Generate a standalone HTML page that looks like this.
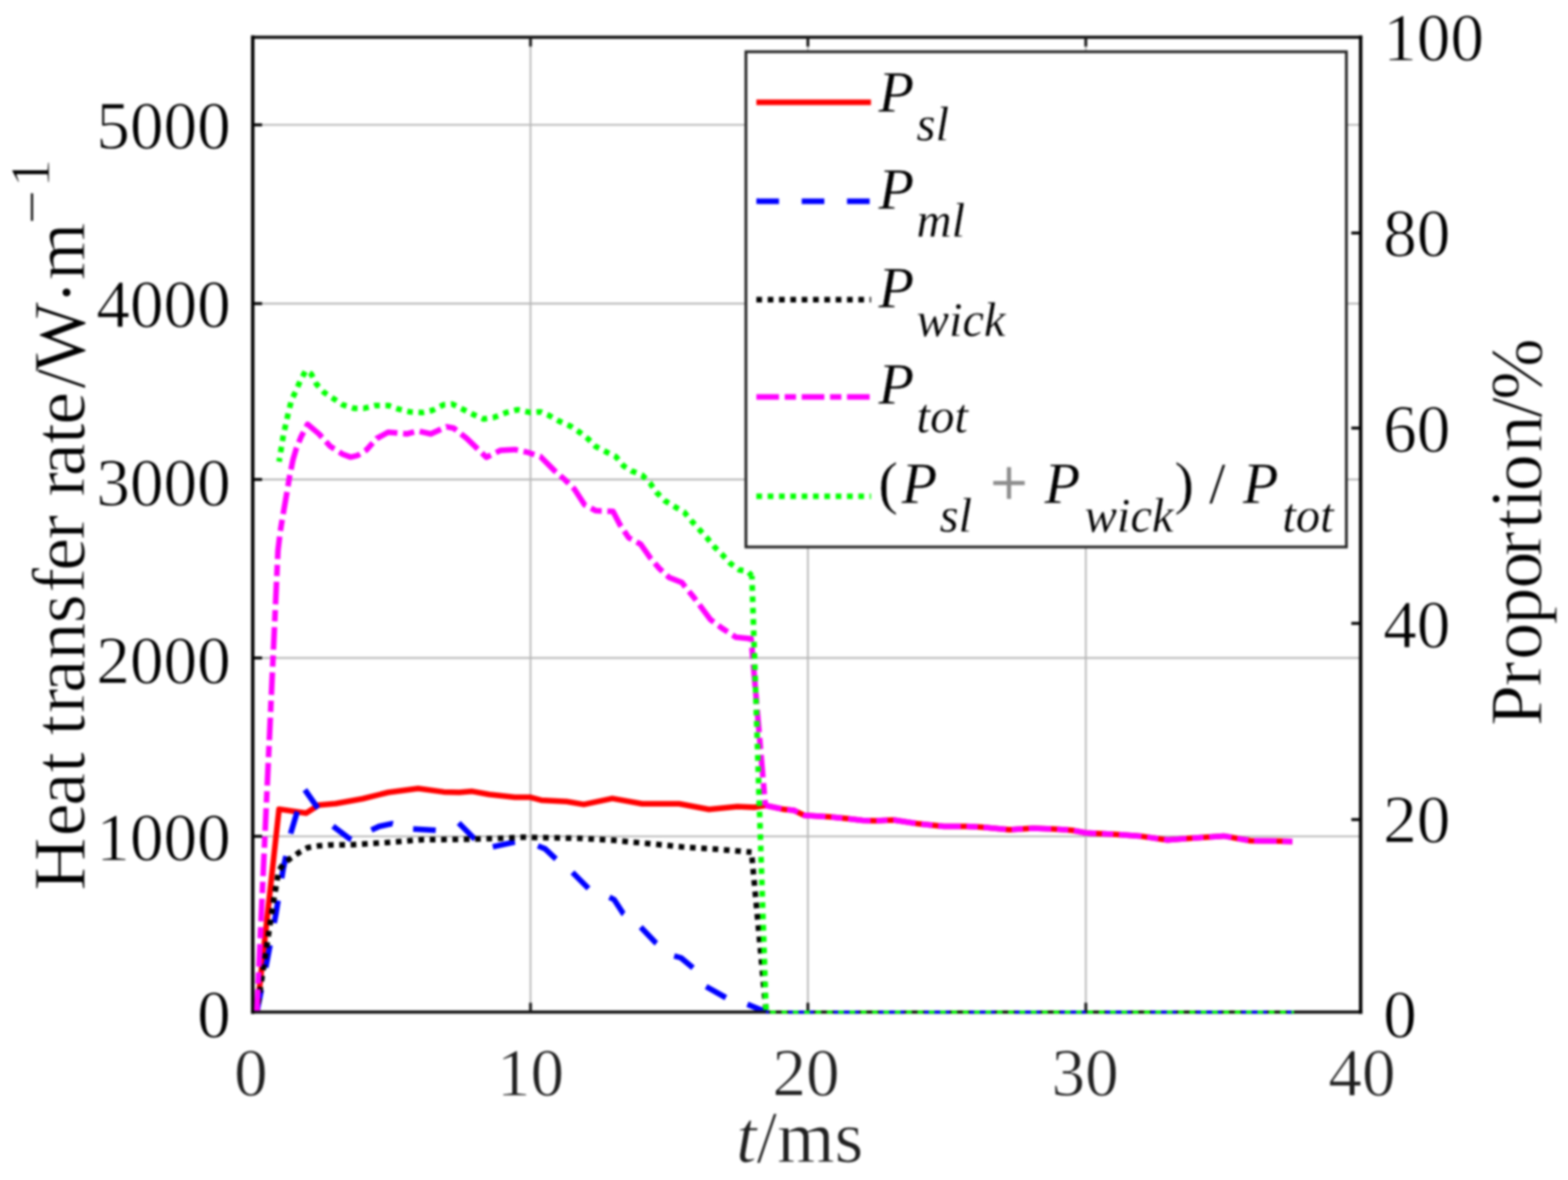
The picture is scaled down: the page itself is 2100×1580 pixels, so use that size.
<!DOCTYPE html>
<html lang="en">
<head>
<meta charset="utf-8">
<title>Heat transfer rate and proportion versus time</title>
<style>
html,body{margin:0;padding:0;background:#fff;}
body{width:2100px;height:1580px;overflow:hidden;}
svg{display:block;font-family:"Liberation Serif","DejaVu Serif",serif;filter:blur(1.5px);}
.tk{font-size:90px;fill:#1f1f1f;}
.lab{font-size:99px;fill:#1f1f1f;}
.yl{fill:#000;}
.ytk{fill:#000;}
.leg{font-size:78px;fill:#000;stroke-width:0.3px;}
.sub{font-size:65px;fill:#000;font-style:italic;stroke-width:0.3px;}
.it{font-style:italic;}
text{stroke:#ffffff;stroke-width:1.1px;stroke-linejoin:round;}
</style>
</head>
<body>
<svg width="2100" height="1580" viewBox="0 0 2100 1580" role="img" aria-label="Heat transfer rate and proportion versus time">
<rect x="0" y="0" width="2100" height="1580" fill="#ffffff"/>
<defs><clipPath id="ax"><rect x="338.5" y="49.8" width="1483.8" height="1303.45"/></clipPath></defs>

<g stroke="#b6b6b6" stroke-width="2.3" fill="none">
<line x1="710.5" y1="49.8" x2="710.5" y2="1355.2"/>
<line x1="1082.0" y1="49.8" x2="1082.0" y2="1355.2"/>
<line x1="1454.2" y1="49.8" x2="1454.2" y2="1355.2"/>
<line x1="338.5" y1="1119.8" x2="1822.3" y2="1119.8"/>
<line x1="338.5" y1="881.0" x2="1822.3" y2="881.0"/>
<line x1="338.5" y1="642.0" x2="1822.3" y2="642.0"/>
<line x1="338.5" y1="406.5" x2="1822.3" y2="406.5"/>
<line x1="338.5" y1="167.2" x2="1822.3" y2="167.2"/>
</g>
<g fill="none" stroke="#121212" stroke-width="4.2" stroke-linecap="square"><line x1="338.5" y1="49.8" x2="1822.3" y2="49.8"/><line x1="338.5" y1="1355.2" x2="1822.3" y2="1355.2"/></g>
<g fill="none" stroke="#000000" stroke-width="4.6" stroke-linecap="square"><line x1="338.5" y1="49.8" x2="338.5" y2="1355.2"/><line x1="1822.3" y1="49.8" x2="1822.3" y2="1355.2"/></g>
<g stroke="#1a1a1a" stroke-width="3.9" fill="none">
<line x1="710.5" y1="1355.2" x2="710.5" y2="1342.7"/>
<line x1="710.5" y1="49.8" x2="710.5" y2="62.3"/>
<line x1="1082.0" y1="1355.2" x2="1082.0" y2="1342.7"/>
<line x1="1082.0" y1="49.8" x2="1082.0" y2="62.3"/>
<line x1="1454.2" y1="1355.2" x2="1454.2" y2="1342.7"/>
<line x1="1454.2" y1="49.8" x2="1454.2" y2="62.3"/>
<line x1="338.5" y1="1119.8" x2="351.0" y2="1119.8" stroke="#000"/>
<line x1="338.5" y1="881.0" x2="351.0" y2="881.0" stroke="#000"/>
<line x1="338.5" y1="642.0" x2="351.0" y2="642.0" stroke="#000"/>
<line x1="338.5" y1="406.5" x2="351.0" y2="406.5" stroke="#000"/>
<line x1="338.5" y1="167.2" x2="351.0" y2="167.2" stroke="#000"/>
<line x1="1822.3" y1="1097.4" x2="1809.8" y2="1097.4" stroke="#000"/>
<line x1="1822.3" y1="834.7" x2="1809.8" y2="834.7" stroke="#000"/>
<line x1="1822.3" y1="573.2" x2="1809.8" y2="573.2" stroke="#000"/>
<line x1="1822.3" y1="312.0" x2="1809.8" y2="312.0" stroke="#000"/>
</g>
<g clip-path="url(#ax)">
<polyline points="344.0,1355.0 373.7,1083.4 409.9,1088.8 426.7,1078.0 449.5,1076.0 485.7,1069.5 520.0,1061.0 560.0,1055.8 594.3,1060.4 615.2,1061.0 632.4,1059.6 655.2,1063.8 689.5,1067.6 710.5,1067.6 724.8,1071.4 759.0,1073.3 781.9,1077.1 820.0,1069.1 860.0,1076.2 909.5,1076.2 949.5,1083.8 987.6,1080.0 1010.0,1081.0 1025.0,1078.5 1050.3,1083.8 1062.9,1084.9 1077.5,1091.8 1111.0,1093.7 1134.0,1096.0 1155.0,1098.5 1171.8,1099.1 1197.0,1098.0 1230.5,1103.1 1264.0,1106.4 1293.3,1106.4 1314.3,1107.5 1352.0,1111.0 1383.4,1109.0 1410.7,1110.0 1435.6,1111.7 1454.5,1115.2 1494.3,1117.3 1525.7,1119.4 1563.4,1124.7 1592.8,1122.6 1638.9,1119.4 1674.5,1125.7 1714.3,1126.3 1731.0,1126.8" fill="none" stroke="#ff0000" stroke-width="7.5" stroke-linejoin="round"/>
<polyline points="344.0,1355.0 358.0,1284.8 369.5,1223.8 379.0,1164.8 389.4,1115.7" fill="none" stroke="#0000ff" stroke-width="7.5" stroke-linejoin="round" stroke-dasharray="30.350 30.350" stroke-dashoffset="0"/>
<polyline points="389.4,1115.7 397.1,1090.0 408.3,1057.5" fill="none" stroke="#0000ff" stroke-width="7.5" stroke-linejoin="round" stroke-dasharray="30.350 999" stroke-dashoffset="0"/>
<polyline points="408.3,1057.5 424.6,1080.6 446.0,1106.3" fill="none" stroke="#0000ff" stroke-width="7.5" stroke-linejoin="round" stroke-dasharray="30.350 999" stroke-dashoffset="0"/>
<polyline points="446.0,1106.3 467.4,1122.6 472.0,1124.5 497.4,1111.4" fill="none" stroke="#0000ff" stroke-width="7.5" stroke-linejoin="round" stroke-dasharray="30.350 999" stroke-dashoffset="0"/>
<polyline points="497.4,1111.4 508.0,1106.5 524.9,1102.9 553.3,1110.0" fill="none" stroke="#0000ff" stroke-width="7.5" stroke-linejoin="round" stroke-dasharray="30.350 999" stroke-dashoffset="0"/>
<polyline points="553.3,1110.0 584.0,1111.8 614.3,1101.9" fill="none" stroke="#0000ff" stroke-width="7.5" stroke-linejoin="round" stroke-dasharray="30.350 999" stroke-dashoffset="0"/>
<polyline points="614.3,1101.9 635.2,1122.9 652.0,1134.5 660.0,1133.8" fill="none" stroke="#0000ff" stroke-width="7.5" stroke-linejoin="round" stroke-dasharray="30.350 999" stroke-dashoffset="0"/>
<polyline points="660.0,1133.8 688.6,1127.6 703.0,1125.5 720.4,1132.6" fill="none" stroke="#0000ff" stroke-width="7.5" stroke-linejoin="round" stroke-dasharray="30.350 999" stroke-dashoffset="0"/>
<polyline points="720.4,1132.6 730.0,1136.5 743.0,1148.7 766.7,1168.1" fill="none" stroke="#0000ff" stroke-width="7.5" stroke-linejoin="round" stroke-dasharray="30.350 999" stroke-dashoffset="0"/>
<polyline points="766.7,1168.1 789.3,1190.7 816.2,1201.4" fill="none" stroke="#0000ff" stroke-width="7.5" stroke-linejoin="round" stroke-dasharray="30.350 999" stroke-dashoffset="0"/>
<polyline points="816.2,1201.4 822.5,1204.5 834.5,1223.0 858.1,1241.3" fill="none" stroke="#0000ff" stroke-width="7.5" stroke-linejoin="round" stroke-dasharray="30.350 999" stroke-dashoffset="0"/>
<polyline points="858.1,1241.3 877.5,1261.7 902.9,1280.0" fill="none" stroke="#0000ff" stroke-width="7.5" stroke-linejoin="round" stroke-dasharray="30.350 999" stroke-dashoffset="0"/>
<polyline points="902.9,1280.0 912.0,1282.5 928.6,1296.2 945.7,1321.0" fill="none" stroke="#0000ff" stroke-width="7.5" stroke-linejoin="round" stroke-dasharray="30.350 999" stroke-dashoffset="0"/>
<polyline points="945.7,1321.0 974.3,1337.1 1001.0,1344.8" fill="none" stroke="#0000ff" stroke-width="7.5" stroke-linejoin="round" stroke-dasharray="30.350 999" stroke-dashoffset="0"/>
<polyline points="1001.0,1344.8 1026.7,1355.2" fill="none" stroke="#0000ff" stroke-width="7.5" stroke-linejoin="round" stroke-dasharray="30.350 999" stroke-dashoffset="0"/>
<polyline points="344.0,1355.0 358.0,1262.0 365.7,1210.5 373.3,1166.0 380.0,1156.0 388.6,1149.7 400.8,1141.3 412.2,1134.9 426.7,1132.6 441.9,1131.4 472.4,1131.0 518.0,1128.2 563.8,1124.4 624.8,1123.8 670.5,1122.5 700.0,1121.0 776.2,1122.5 821.9,1125.1 867.6,1129.5 913.3,1133.9 959.0,1137.1 1006.5,1141.0" fill="none" stroke="#000000" stroke-width="7.5" stroke-linejoin="round" stroke-dasharray="7.588 7.588" stroke-dashoffset="4.0118058748633025"/>
<polyline points="1006.5,1141.0 1026.0,1355.0" fill="none" stroke="#000000" stroke-width="7.5" stroke-linejoin="round" stroke-dasharray="7.588 7.588" stroke-dashoffset="7.95090200003164"/>
<polyline points="344.0,1355.0 372.3,737.0 375.3,712.0 378.6,691.9 383.9,661.5 387.7,638.7 392.3,615.9 396.8,600.7 402.9,585.6 412.0,568.1 427.2,581.0 442.4,597.7 459.1,608.3 469.7,612.1 478.8,609.9 491.0,602.3 504.6,587.1 519.8,578.7 544.8,581.0 560.0,577.1 577.0,581.0 598.0,571.4 607.6,573.3 624.8,586.7 651.4,612.4 670.5,602.9 689.5,601.9 706.7,605.7 723.8,611.4 742.9,630.5 756.2,642.0 769.5,655.2 783.0,676.0 798.0,683.8 821.0,684.8 830.5,702.9 842.0,720.0 858.0,728.6 871.4,747.6 882.9,761.0 896.2,773.3 913.3,780.0 919.0,787.6 928.6,799.0 940.0,814.3 951.4,829.5 966.7,841.0 985.7,853.3 1006.0,855.2 1025.0,1078.5" fill="none" stroke="#ff00ff" stroke-width="7.5" stroke-linejoin="round" stroke-dasharray="30.350 7.588 15.175 7.588" stroke-dashoffset="0"/>
<polyline points="1025.0,1078.5 1050.3,1083.8 1062.9,1084.9 1077.5,1091.8 1111.0,1093.7 1134.0,1096.0 1155.0,1098.5 1171.8,1099.1 1197.0,1098.0 1230.5,1103.1 1264.0,1106.4 1293.3,1106.4 1314.3,1107.5 1352.0,1111.0 1383.4,1109.0 1410.7,1110.0 1435.6,1111.7 1454.5,1115.2 1494.3,1117.3 1525.7,1119.4 1563.4,1124.7 1592.8,1122.6 1638.9,1119.4 1674.5,1125.7 1714.3,1126.3 1731.0,1126.8" fill="none" stroke="#ff00ff" stroke-width="7.5" stroke-linejoin="round" stroke-dasharray="30.350 7.588 15.175 7.588" stroke-dashoffset="8.294572063361535"/>
<polyline points="373.8,618.2 379.5,582.9 385.8,554.3 390.5,535.2 396.2,523.8 401.9,510.5 409.5,496.2 417.0,501.0 423.8,514.3 434.3,525.7 447.6,534.3 459.0,542.0 474.3,546.7 487.6,546.7 502.9,542.9 520.0,542.9 533.3,547.6 548.6,551.4 565.7,552.4 579.0,549.5 594.3,541.9 605.7,541.0 621.0,548.6 634.3,555.2 647.6,561.0 661.0,559.0 678.0,552.4 693.3,548.6 710.5,552.4 723.8,551.4 735.2,556.2 748.6,563.8 763.8,570.5 775.2,578.0 787.6,587.6 798.0,598.0 811.4,604.8 824.8,611.4 835.2,623.8 845.7,630.5 860.0,636.2 870.5,646.7 879.0,659.0 890.5,670.5 902.9,678.0 916.2,685.7 925.7,697.0 936.2,708.6 946.7,720.0 956.0,731.4 966.7,742.0 978.0,754.3 990.0,763.0 1001.0,764.8 1007.0,771.0" fill="none" stroke="#00ff00" stroke-width="7.5" stroke-linejoin="round" stroke-dasharray="7.588 7.588" stroke-dashoffset="2.4892941304248986"/>
<polyline points="1007.0,771.0 1026.0,1355.0" fill="none" stroke="#00ff00" stroke-width="7.5" stroke-linejoin="round" stroke-dasharray="7.588 7.588" stroke-dashoffset="2.72850640157872"/>
</g>
<line x1="1026.0" y1="1355.2" x2="1733.0" y2="1355.2" stroke="#0000ff" stroke-width="4.0" stroke-dasharray="34.000 26.700" stroke-dashoffset="30.800"/>
<line x1="1026.0" y1="1355.2" x2="1733.0" y2="1355.2" stroke="#00ff00" stroke-width="4.0" stroke-dasharray="7.588 7.588" stroke-dashoffset="9.696"/>
<g class="tk">
<text x="309" y="1389.3" text-anchor="end" class="ytk">0</text>
<text x="309" y="1151.5" text-anchor="end" class="ytk">1000</text>
<text x="309" y="915.3" text-anchor="end" class="ytk">2000</text>
<text x="309" y="676.5" text-anchor="end" class="ytk">3000</text>
<text x="309" y="437.6" text-anchor="end" class="ytk">4000</text>
<text x="309" y="198.9" text-anchor="end" class="ytk">5000</text>
<text x="336.0" y="1467" text-anchor="middle">0</text>
<text x="710.5" y="1467" text-anchor="middle">10</text>
<text x="1079.5" y="1467" text-anchor="middle">20</text>
<text x="1453.2" y="1467" text-anchor="middle">30</text>
<text x="1824.0" y="1467" text-anchor="middle">40</text>
<text x="1852.4" y="1389.3" text-anchor="start" class="ytk">0</text>
<text x="1852.4" y="1128.2" text-anchor="start" class="ytk">20</text>
<text x="1852.4" y="867.0" text-anchor="start" class="ytk">40</text>
<text x="1852.4" y="604.8" text-anchor="start" class="ytk">60</text>
<text x="1852.4" y="343.2" text-anchor="start" class="ytk">80</text>
<text x="1852.4" y="81.3" text-anchor="start" class="ytk">100</text>
</g>
<text class="lab" x="1071" y="1556" text-anchor="middle"><tspan class="it">t</tspan>/ms</text>
<text class="lab yl" transform="translate(113,1192.7) rotate(-90)" text-anchor="start" dx="0.0 2.7 -1.7 1.3 0.0 0.0 3.4 -4.2 1.5 0.4 3.6 -2.4 -1.2 1.1 1.2 -4.2 0.3 -0.8 5.8 -3.8 -2.5 1.1" dy="0 0 0 0 0 0 0 0 0 0 0 0 0 0 0 0 0 0 0 0 8.5 -8.5" style="letter-spacing:-1.2px">Heat transfer rate/W·m<tspan dx="-1.3" dy="-43.5" style="font-size:82px;letter-spacing:0">−</tspan><tspan dx="3.4" dy="-3.1" style="font-size:77px;letter-spacing:0">1</tspan></text>
<text class="lab yl" transform="translate(2063.6,973.7) rotate(-90)" text-anchor="start" dx="1.4 -0.4 3.7 -0.9 0.0 -4.8 4.8 0.9 -2.8 3.8 -1.9 -2.4" style="letter-spacing:-1.3px">Proportion/%</text>
<rect x="999.0" y="69.3" width="804.2" height="663.1" fill="#ffffff" stroke="#262626" stroke-width="3.75"/>
<line x1="1013.0" y1="137.1" x2="1166.5" y2="137.1" stroke="#ff0000" stroke-width="7.5"/>
<line x1="1013.0" y1="269.4" x2="1166.5" y2="269.4" stroke="#0000ff" stroke-width="7.5" stroke-dasharray="30.350 30.350"/>
<line x1="1013.0" y1="401.2" x2="1166.5" y2="401.2" stroke="#000000" stroke-width="7.5" stroke-dasharray="7.588 7.588"/>
<line x1="1013.0" y1="531.5" x2="1166.5" y2="531.5" stroke="#ff00ff" stroke-width="7.5" stroke-dasharray="30.350 7.588 15.175 7.588"/>
<line x1="1013.0" y1="664.4" x2="1166.5" y2="664.4" stroke="#00ff00" stroke-width="7.5" stroke-dasharray="7.588 7.588"/>
<text class="leg" x="1176.5" y="149.2"><tspan class="it">P</tspan></text>
<text class="sub" x="1227.6" y="188.2">sl</text>
<text class="leg" x="1176.5" y="278.5"><tspan class="it">P</tspan></text>
<text class="sub" x="1227.6" y="316.7">ml</text>
<text class="leg" x="1176.5" y="411.0"><tspan class="it">P</tspan></text>
<text class="sub" x="1227.6" y="449.7">wick</text>
<text class="leg" x="1176.5" y="539.8"><tspan class="it">P</tspan></text>
<text class="sub" x="1227.6" y="579.2">tot</text>
<text class="leg" x="1176.5" y="673.1">(</text>
<text class="leg it" x="1207.5" y="673.1">P</text>
<text class="sub" x="1258.5" y="712.4">sl</text>
<text class="leg" x="1326.5" y="675.6" style="fill:#8c8c8c;stroke:#8c8c8c;stroke-width:1.2px;font-size:88px">+</text>
<text class="leg it" x="1399.0" y="673.1">P</text>
<text class="sub" x="1452.5" y="712.4">wick</text>
<text class="leg" x="1573.0" y="673.1">)</text>
<text class="leg" x="1619.5" y="673.1">/</text>
<text class="leg it" x="1664.5" y="673.1">P</text>
<text class="sub" x="1717.5" y="712.4">tot</text>
</svg>
</body>
</html>
